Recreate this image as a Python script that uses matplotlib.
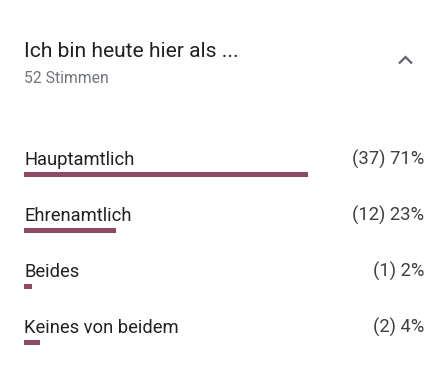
import matplotlib.pyplot as plt
from matplotlib.lines import Line2D

# Daten
title = "Ich bin heute hier als ..."
subtitle = "52 Stimmen"
categories = ["Hauptamtlich", "Ehrenamtlich", "Beides", "Keines von beidem"]
counts = [37, 12, 1, 2]
percents = [71, 23, 2, 4]

W, H = 448, 384
fig = plt.figure(figsize=(W / 100, H / 100), dpi=100)
fig.patch.set_facecolor("white")
plt.rcParams["font.family"] = ["Roboto", "DejaVu Sans"]

# Achse: 0..100 % -> x 24..424 px, Zeilenabstand 56 px
top_px, bottom_px = 146.5, 370.5
ax = fig.add_axes([24 / W, 1 - bottom_px / H, 400 / W, (bottom_px - top_px) / H])
ax.set_xlim(0, 100)
ax.set_ylim(len(categories) - 0.5, -0.5)
ax.axis("off")

bar_color = "#8e4a64"
ypos = list(range(len(categories)))
ax.barh(ypos, percents, height=5 / 56, left=0, color=bar_color, edgecolor="none")

for i, (cat, c, p) in enumerate(zip(categories, counts, percents)):
    ax.annotate(cat, (0, i), xytext=(0, 9.5), textcoords="offset pixels",
                ha="left", va="baseline", fontsize=13.2, color="#202124")
    ax.annotate(f"({c}) {p}%", (100, i), xytext=(0, 9.5), textcoords="offset pixels",
                ha="right", va="baseline", fontsize=13.2, color="#3c4043")

# Kopfzeile
fig.text(24 / W, 1 - 57.3 / H, title, ha="left", va="baseline",
         fontsize=15.1, color="#202124")
fig.text(24 / W, 1 - 83.3 / H, subtitle, ha="left", va="baseline",
         fontsize=11.3, color="#70757a")

# Chevron
fig.add_artist(Line2D([399 / W, 405.5 / W, 412 / W], [1 - 63.5 / H, 1 - 57 / H, 1 - 63.5 / H],
                      color="#5f6368", lw=1.6, solid_capstyle="butt", solid_joinstyle="miter"))

fig.savefig("out.png", dpi=100)
